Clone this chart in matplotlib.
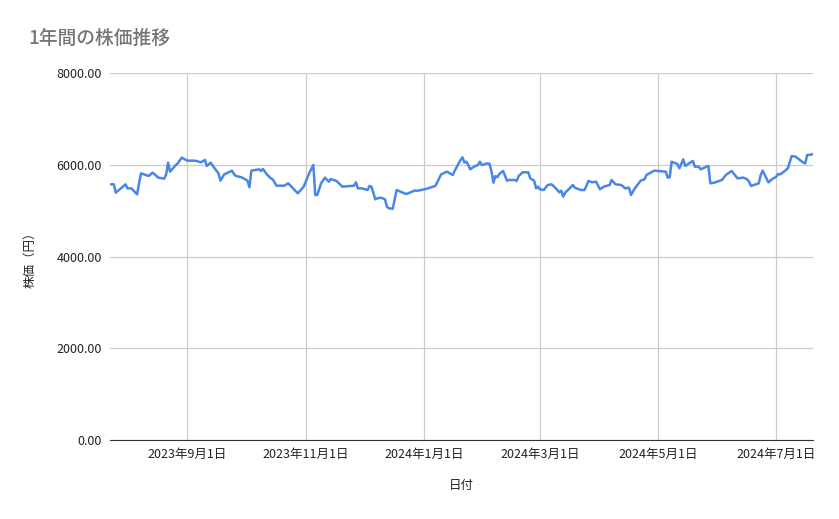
import matplotlib
matplotlib.use("Agg")
import matplotlib.pyplot as plt
import numpy as np
import datetime as dt

plt.rcParams['font.family'] = ['Noto Sans CJK JP', 'DejaVu Sans']

start_date = dt.date(2023, 7, 23)
day_offsets = [0,2,3,8,9,11,14,15,16,20,22,23,25,28,29,30,31,34,35,37,40,42,44,47,49,50,52,54,56,57,59,63,64,65,68,71,72,73,77,78,79,81,83,84,86,90,92,94,97,100,103,105,106,107,109,111,113,114,117,120,126,127,128,130,133,134,135,137,138,140,142,143,144,146,148,152,153,156,157,159,163,168,171,174,177,178,181,182,
183,184,185,186,188,190,191,192,193,195,196,197,198,199,200,201,203,205,206,209,210,211,212,213,216,217,219,220,221,222,224,226,228,229,231,232,233,234,235,237,239,240,243,245,246,247,249,251,253,255,258,259,261,264,266,268,269,271,274,276,277,280,281,287,288,289,290,293,294,296,297,299,301,302,304,305,308,309,310,312,316,318,321,323,324,327,329,330,331,335,336,337,340,342,344,345,346,348,350,352,354,358,359,360,362,363]
prices = [5573,5573,5391,5573,5486,5486,5355,5595,5813,5755,5828,5791,5719,5697,5791,6046,5849,5995,6031,6155,6089,6089,6089,6053,6104,5973,6046,5922,5813,5653,5791,5871,5798,5755,5726,5653,5508,5871,5900,5864,5907,5791,5704,5682,5544,5544,5595,5508,5377,5522,5828,5995,5340,5340,5595,5719,5631,5689,5646,5522,5544,5617,5486,5486,5450,5537,5522,5246,5268,5282,5246,5086,5050,5042,5450,5377,5362,5413,5435,5435,5471,5537,5791,5849,5777,5871,6104,6162,
6046,6067,5995,5900,5958,5995,6067,5995,6009,6031,6017,5849,5609,5755,5726,5798,5864,5653,5668,5668,5646,5755,5791,5835,5835,5704,5653,5486,5522,5464,5450,5559,5573,5537,5450,5399,5435,5304,5391,5471,5559,5500,5450,5450,5537,5646,5617,5631,5464,5522,5559,5668,5573,5559,5486,5500,5340,5486,5653,5682,5777,5849,5871,5849,5719,5726,6067,6017,5922,6118,5973,6031,6082,5958,5958,5900,5958,5973,5595,5609,5668,5777,5864,5755,5704,5719,5682,5631,5537,5595,5777,5871,5617,5689,5740,5798,5791,5849,5922,6191,6177,6046,6031,6213,6220,6235]
tick_dates = ["2023-09-01","2023-11-01","2024-01-01","2024-03-01","2024-05-01","2024-07-01"]
tick_labels = ["2023年9月1日","2023年11月1日","2024年1月1日","2024年3月1日","2024年5月1日","2024年7月1日"]
y_ticks = [0, 2000, 4000, 6000, 8000]

dates = [start_date + dt.timedelta(days=d) for d in day_offsets]

fig = plt.figure(figsize=(8.39, 5.19), dpi=100)
ax = fig.add_axes([110/839, 79/519, 703/839, 367/519])
ax.plot(dates, prices, color='#4a86e8', lw=1.8, solid_joinstyle='round')
ax.set_xlim(start_date, start_date + dt.timedelta(days=363))
ax.set_ylim(0, 8000)
ax.set_yticks(y_ticks)
ax.set_yticklabels([f"{v:.2f}" for v in y_ticks])
ax.set_xticks([dt.date.fromisoformat(s) for s in tick_dates])
ax.set_xticklabels(tick_labels)
ax.grid(True, color='#cccccc', lw=0.9)
ax.set_axisbelow(True)
for s in ['top', 'right', 'left']:
    ax.spines[s].set_visible(False)
ax.spines['bottom'].set_color('#333333')
ax.tick_params(length=0, labelsize=9, colors='#222222', pad=6)
ax.set_xlabel("日付", fontsize=9, labelpad=13, color='#222222')
ax.set_ylabel("株価（円）", fontsize=9, labelpad=14, color='#222222')
fig.text(28/839, 1 - 38/519, "1年間の株価推移", fontsize=13.5, color='#757575', fontweight='medium', va='center')
fig.savefig("out.png", dpi=100)
